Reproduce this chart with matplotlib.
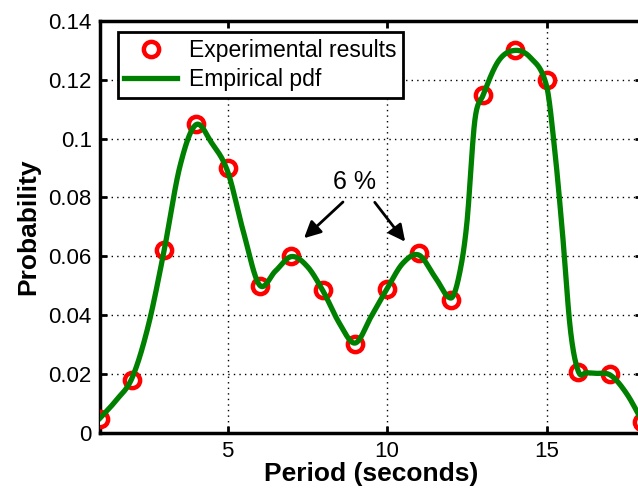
import numpy as np
import matplotlib
matplotlib.use("Agg")
import matplotlib.pyplot as plt

plt.rcParams['font.family'] = ['Liberation Sans', 'DejaVu Sans']

# Experimental results (markers)
period = [1, 2, 3, 4, 5, 6, 7, 8, 9, 10, 11, 12, 13, 14, 15, 16, 17, 18]
prob = [0.0047, 0.018, 0.062, 0.105, 0.090, 0.050, 0.060, 0.0485, 0.030, 0.049,
        0.061, 0.045, 0.115, 0.130, 0.120, 0.0205, 0.0198, 0.0037]

# Empirical pdf curve, values at knots
pdf_x = [1, 1.5, 2, 2.5, 3, 3.5, 4, 4.5, 5, 5.5, 6, 6.5, 7, 7.5, 8, 8.5, 9, 9.5,
         10, 10.5, 11, 11.5, 12, 12.25, 12.5, 12.75, 13, 13.5, 14, 14.5, 15,
         15.25, 15.5, 15.75, 16, 16.25, 16.5, 17, 17.5, 18]
pdf_y = [0.005, 0.011, 0.0186, 0.036, 0.0616, 0.0905, 0.1047, 0.0985, 0.0888,
         0.068, 0.0502, 0.055, 0.0599, 0.0565, 0.048, 0.0373, 0.0305, 0.0395,
         0.049, 0.0577, 0.0604, 0.053, 0.0458, 0.053, 0.071, 0.106, 0.1145,
         0.1265, 0.130, 0.1275, 0.118, 0.097, 0.068, 0.035, 0.0208, 0.0204,
         0.0202, 0.0196, 0.0135, 0.004]

yticks = [0, 0.02, 0.04, 0.06, 0.08, 0.1, 0.12, 0.14]
ytick_labels = ['0', '0.02', '0.04', '0.06', '0.08', '0.1', '0.12', '0.14']
xticks = [5, 10, 15]


def catmull_rom(x, y, xn):
    x = np.asarray(x, float); y = np.asarray(y, float)
    n = len(x); h = np.diff(x)
    t = np.empty(n)
    t[1:-1] = (y[2:] - y[:-2]) / (x[2:] - x[:-2])
    t[0] = (y[1] - y[0]) / h[0]; t[-1] = (y[-1] - y[-2]) / h[-1]
    idx = np.clip(np.searchsorted(x, xn) - 1, 0, n - 2)
    s = (xn - x[idx]) / h[idx]
    h00 = 2 * s**3 - 3 * s**2 + 1; h10 = s**3 - 2 * s**2 + s
    h01 = -2 * s**3 + 3 * s**2; h11 = s**3 - s**2
    return h00 * y[idx] + h10 * h[idx] * t[idx] + h01 * y[idx + 1] + h11 * h[idx] * t[idx + 1]


fig = plt.figure(figsize=(6.38, 4.92), dpi=100)
ax = fig.add_axes([0.157, 0.1205, 0.8495, 0.8368])

xs = np.linspace(pdf_x[0], pdf_x[-1], 1200)
ax.plot(period, prob, 'o', ms=11, mfc='white', mec='red', mew=3.2,
        label='Experimental results', zorder=3)
ax.plot(xs, catmull_rom(pdf_x, pdf_y, xs), color='#008000', lw=3.8,
        label='Empirical pdf', zorder=4)

ax.set_xlim(1, 18)
ax.set_ylim(0, 0.14)
ax.set_xticks(xticks)
ax.set_yticks(yticks)
ax.set_yticklabels(ytick_labels)
ax.tick_params(direction='in', length=5, width=2, labelsize=16, top=True, right=True, pad=6)
ax.grid(True, color='black', linestyle=(0, (1, 3)), linewidth=1.0)
for s in ax.spines.values():
    s.set_linewidth(2.5)

ax.set_xlabel('Period (seconds)', fontsize=19, fontweight='bold', labelpad=0)
ax.set_ylabel('Probability', fontsize=19, fontweight='bold', labelpad=6)

ax.annotate('', xy=(7.33, 0.0655), xytext=(8.68, 0.0791),
            arrowprops=dict(arrowstyle='-|>', color='black', lw=2, mutation_scale=25))
ax.annotate('', xy=(10.62, 0.0642), xytext=(9.56, 0.0791),
            arrowprops=dict(arrowstyle='-|>', color='black', lw=2, mutation_scale=25))
ax.text(8.99, 0.0852, '6 %', fontsize=18, ha='center', va='center')

leg = ax.legend(loc='upper left', bbox_to_anchor=(0.032, 0.974), fontsize=16.5,
                frameon=True, fancybox=False, edgecolor='black', framealpha=1,
                handlelength=2.3, handletextpad=0.5, borderpad=0.3, labelspacing=0.3,
                borderaxespad=0.0)
leg.get_frame().set_linewidth(2)

fig.savefig('out.png', dpi=100)
